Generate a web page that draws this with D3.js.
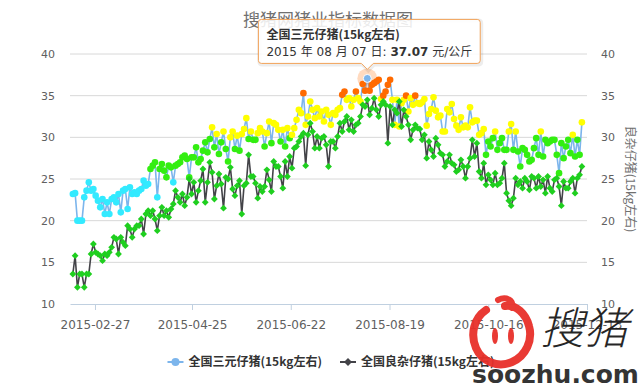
<!DOCTYPE html>
<html>
<head>
<meta charset="utf-8">
<script src="https://cdn.jsdelivr.net/npm/d3@7"></script>
<style>
  body { margin: 0; background: #fff; }
  svg { display: block; }
</style>
</head>
<body>
<div id="chart"></div>
<script>
// 搜猪网 - 仔猪价格走势 (recreated)

var width = 640
var height = 389

// ---- data ----
var titleText = "搜猪网猪业指标数据图"
var seriesNames = ["全国三元仔猪(15kg左右)", "全国良杂仔猪(15kg左右)"]
var rightAxisTitle = "良杂仔猪(15kg左右)"
var firstDay = "2015-02-14"   // first sample
var lastDay = "2015-12-10"    // last sample (samples evenly spaced)
var tickDates = ["2015-02-27", "2015-04-25", "2015-06-22", "2015-08-19", "2015-10-16", "2015-12-13"]
var yTicks = [10, 15, 20, 25, 30, 35, 40]

// 全国三元仔猪 (元/公斤)
var sanyuan = [
  23.2,23.3,20.0,20.0,20.0,22.8,23.6,24.6,23.6,23.8,
  23.0,22.4,21.6,22.6,20.8,22.2,20.8,22.6,22.8,22.2,
  23.2,21.0,23.6,23.8,21.4,24.0,23.2,23.4,23.2,23.6,
  23.8,24.8,24.2,24.4,26.2,26.6,27.0,22.8,26.2,26.8,
  26.0,25.2,26.6,26.4,24.6,26.6,26.8,27.0,27.6,27.8,
  27.4,25.2,27.6,27.6,28.8,27.0,27.4,28.4,29.4,28.2,
  29.8,31.2,28.8,30.4,28.0,29.4,30.7,28.6,27.1,30.0,
  30.7,28.6,30.2,28.4,30.4,31.0,
  32.3,29.8,30.7,29.7,29.7,30.5,31.1,30.7,28.9,30.5,
  31.9,29.3,31.7,31.5,30.9,29.5,30.9,28.9,31.1,29.9,
  30.3,31.1,32.1,33.3,32.9,35.3,31.5,32.5,34.3,33.3,
  32.3,33.5,32.5,33.1,31.9,33.3,32.7,31.5,32.9,32.7,
  33.3,33.5,35.1,35.5,34.5,34.7,33.7,34.5,35.5,34.7,
  34.3,36.4,35.6,37.07,35.6,36.3,36.5,36.7,36.9,34.6,
  35.0,35.5,36.3,36.9,34.5,31.5,34.5,31.3,34.1,34.5,
  35.0,33.1,34.7,33.9,35.0,34.1,
  34.0,34.2,34.6,31.4,32.8,33.4,34.8,33.2,32.4,32.6,
  30.7,30.7,33.4,33.0,34.0,32.2,31.4,30.9,32.4,31.2,
  31.4,31.2,33.6,31.8,32.0,32.0,30.3,30.5,31.0,27.9,
  29.5,28.9,29.9,30.7,28.5,29.3,29.9,28.5,28.5,30.7,
  31.6,28.5,30.7,28.3,26.5,28.7,28.5,27.9,27.1,27.3,
  28.7,29.9,27.9,30.7,27.7,29.7,29.3,29.5,29.7,29.7,
  27.9,25.7,29.3,27.5,28.9,29.7,28.1,30.3,27.7,29.7,
  27.9,31.8
]

// 全国良杂仔猪 (元/公斤)
var liangza = [
  13.6,15.8,12.0,13.6,13.6,12.0,13.6,13.6,16.0,17.2,
  16.2,16.0,15.8,15.2,16.0,15.8,16.2,16.8,18.0,17.8,
  16.0,18.0,17.4,17.0,19.4,19.0,18.0,19.0,19.4,19.4,
  20.2,18.4,20.8,21.2,20.6,21.2,20.2,18.8,20.6,21.6,
  20.6,21.2,20.4,21.4,22.0,23.6,22.8,22.2,23.2,21.8,
  22.8,25.0,23.2,24.6,22.2,23.6,24.8,26.2,22.2,24.6,
  27.0,25.8,22.6,24.2,25.6,24.4,21.5,25.2,25.0,26.4,
  23.8,23.0,24.2,24.8,20.8,24.2,
  24.5,27.9,25.3,25.3,24.5,22.7,24.1,23.5,24.1,26.1,
  24.9,23.5,27.1,26.5,26.5,25.3,23.9,27.1,25.3,27.7,
  26.3,28.7,28.9,29.5,30.1,30.5,26.6,30.3,31.7,30.7,
  28.7,30.1,28.7,29.9,30.1,29.1,26.5,29.5,29.5,28.7,
  30.1,31.7,30.7,31.9,32.5,30.9,32.1,30.7,31.5,31.7,
  32.5,33.9,33.7,34.5,32.7,33.5,34.7,33.3,32.5,33.9,
  34.3,33.9,29.3,33.7,31.5,33.3,32.9,34.3,31.3,33.3,
  32.5,31.5,29.7,30.9,31.5,31.1,
  31.0,29.7,30.3,27.5,29.5,28.5,27.7,29.9,29.1,28.1,
  27.9,26.5,27.1,27.9,26.9,26.7,25.9,26.1,27.3,26.5,
  25.1,26.5,27.5,29.7,27.7,29.3,25.9,25.1,26.9,24.3,
  25.5,24.9,24.3,25.7,24.3,24.5,25.1,26.9,23.3,22.4,
  21.8,22.7,25.1,24.3,24.7,23.9,25.1,24.7,23.7,25.3,
  25.1,23.9,25.3,24.1,24.9,23.3,25.3,23.9,23.5,24.9,
  25.1,24.1,21.8,24.7,23.9,23.9,24.7,25.1,23.3,25.1,
  25.5,26.5
]

// marker colour zones of the 三元 series
var zoneLimits = [25, 30, 35]
var zoneColors = ["#33eaff", "#33ee11", "#ffff00", "#ff6a00"]

// tooltip shown on the highest 三元 point
var tipDate = "2015 年 08 月 07 日"
var tipUnit = "元/公斤"

// ---- chart ----
var FONT = '"DejaVu Sans", "Noto Sans CJK SC", sans-serif'
var CJK = '"Noto Sans CJK SC", "DejaVu Sans", sans-serif'
var parse = d3.timeParse("%Y-%m-%d")

var svg = d3.select("#chart")
  .append("svg")
    .attr("width", width)
    .attr("height", height)

var plot = { left: 70, right: 587, top: 54, bottom: 304 }

var x = d3.scaleTime()
  .domain([new Date(2015, 1, 12, 8), new Date(2015, 11, 13)])
  .range([plot.left, plot.right])
var y = d3.scaleLinear()
  .domain([10, 40])
  .range([plot.bottom, plot.top])

var t0 = parse(firstDay), t1 = parse(lastDay)
function toPoints(arr) {
  return arr.map(function(v, i) {
    return { date: new Date(+t0 + i * (t1 - t0) / (arr.length - 1)), value: v }
  })
}
var blue = toPoints(sanyuan)
var dark = toPoints(liangza)

function zoneColor(v) { return zoneColors[d3.bisectRight(zoneLimits, v)] }

// title
svg.append("text")
  .attr("x", 328).attr("y", 26)
  .attr("text-anchor", "middle")
  .style("font-family", CJK).style("font-size", "17px")
  .style("fill", "#707070")
  .text(titleText)

// grid
svg.append("g").selectAll("line")
  .data(yTicks.slice(1))
  .enter().append("line")
    .attr("x1", plot.left).attr("x2", plot.right)
    .attr("y1", function(d) { return y(d) }).attr("y2", function(d) { return y(d) })
    .attr("stroke", "#d8d8d8").attr("stroke-width", 1)

// x axis
var xAxis = svg.append("g")
  .attr("transform", "translate(0," + plot.bottom + ")")
  .call(d3.axisBottom(x)
    .tickValues(tickDates.map(parse))
    .tickFormat(d3.timeFormat("%Y-%m-%d"))
    .tickSizeInner(6).tickSizeOuter(0).tickPadding(10))
xAxis.select(".domain").attr("stroke", "#c0d0e0")
xAxis.selectAll(".tick line").attr("stroke", "#c0d0e0")
xAxis.selectAll("text").style("font-family", FONT).style("font-size", "12px").attr("fill", "#606060")

// y axes
function styleY(g) {
  g.select(".domain").remove()
  g.selectAll("text").style("font-family", FONT).style("font-size", "11px").attr("fill", "#606060")
}
svg.append("g")
  .attr("transform", "translate(" + plot.left + ",0)")
  .call(d3.axisLeft(y).tickValues(yTicks).tickSize(0).tickPadding(15))
  .call(styleY)
svg.append("g")
  .attr("transform", "translate(" + plot.right + ",0)")
  .call(d3.axisRight(y).tickValues(yTicks).tickSize(0).tickPadding(14))
  .call(styleY)

svg.append("text")
  .attr("transform", "translate(626," + ((plot.top + plot.bottom) / 2) + ") rotate(90)")
  .attr("text-anchor", "middle")
  .style("font-family", CJK).style("font-size", "12px")
  .style("fill", "#707070")
  .text(rightAxisTitle)

// series
var line = d3.line()
  .x(function(d) { return x(d.date) })
  .y(function(d) { return y(d.value) })

function diamond(d) {
  var cx = x(d.date), cy = y(d.value), r = 3.4
  return "M" + cx + "," + (cy - r) + "L" + (cx + r) + "," + cy + "L" + cx + "," + (cy + r) + "L" + (cx - r) + "," + cy + "Z"
}

svg.append("path")
  .datum(blue)
  .attr("d", line)
  .attr("fill", "none").attr("stroke", "#7cb5ec").attr("stroke-width", 1.6)
svg.append("g").selectAll("circle")
  .data(blue)
  .enter().append("circle")
    .attr("cx", function(d) { return x(d.date) })
    .attr("cy", function(d) { return y(d.value) })
    .attr("r", 3.3)
    .attr("fill", function(d) { return zoneColor(d.value) })

svg.append("path")
  .datum(dark)
  .attr("d", line)
  .attr("fill", "none").attr("stroke", "#434348").attr("stroke-width", 1.6)
svg.append("g").selectAll("path")
  .data(dark)
  .enter().append("path")
    .attr("d", diamond)
    .attr("fill", "#1fcf1f")

// hovered point + tooltip
var hi = d3.maxIndex(sanyuan)
var hp = blue[hi]
var px = x(hp.date), py = y(hp.value)
svg.append("circle").attr("cx", px).attr("cy", py).attr("r", 10)
  .attr("fill", zoneColor(hp.value)).attr("fill-opacity", 0.25)
svg.append("circle").attr("cx", px).attr("cy", py).attr("r", 4)
  .attr("fill", "#7cb5ec").attr("stroke", "#fff").attr("stroke-width", 1)

var tip = svg.append("g")
var tipShadow = tip.append("path")
var tipBox = tip.append("path")
var l1 = tip.append("text")
  .style("font-family", CJK).style("font-size", "12px").style("font-weight", "bold")
  .attr("fill", "#333")
  .text(seriesNames[0])
var l2 = tip.append("text")
  .style("font-family", FONT).style("font-size", "12px")
  .attr("fill", "#333")
l2.append("tspan").text(tipDate + ": ")
l2.append("tspan").style("font-weight", "bold").text(hp.value.toFixed(2))
l2.append("tspan").text(" " + tipUnit)

var bw = Math.max(l1.node().getComputedTextLength(), l2.node().getComputedTextLength()) + 16
var bh = 44
var bl = px + 2 - bw / 2, br = bl + bw
var bb = py - 15, bt = bb - bh
var shape = "M" + (bl + 3) + "," + bt + "L" + (br - 3) + "," + bt +
  "Q" + br + "," + bt + " " + br + "," + (bt + 3) + "L" + br + "," + (bb - 3) +
  "Q" + br + "," + bb + " " + (br - 3) + "," + bb + "L" + (px + 6) + "," + bb +
  "L" + px + "," + (bb + 6) + "L" + (px - 6) + "," + bb + "L" + (bl + 3) + "," + bb +
  "Q" + bl + "," + bb + " " + bl + "," + (bb - 3) + "L" + bl + "," + (bt + 3) +
  "Q" + bl + "," + bt + " " + (bl + 3) + "," + bt + "Z"
tipShadow.attr("d", shape).attr("transform", "translate(1,1)")
  .attr("fill", "none").attr("stroke", "#000").attr("stroke-opacity", 0.07).attr("stroke-width", 4)
tipBox.attr("d", shape)
  .attr("fill", "#fff").attr("fill-opacity", 0.86)
  .attr("stroke", "#f2a35a").attr("stroke-width", 1)
l1.attr("x", bl + 8).attr("y", bt + 20)
l2.attr("x", bl + 8).attr("y", bt + 37)

// legend
var legY = 362
var leg = svg.append("g")
var t2 = leg.append("text").attr("x", 361).attr("y", legY + 4)
  .style("font-family", CJK).style("font-size", "12px").style("font-weight", "bold")
  .attr("fill", "#333").text(seriesNames[1])
var t1x = leg.append("text").attr("y", legY + 4)
  .style("font-family", CJK).style("font-size", "12px").style("font-weight", "bold")
  .attr("fill", "#333").text(seriesNames[0])
var w1 = t1x.node().getComputedTextLength()
var s1 = 322 - w1 - 21
t1x.attr("x", 322 - w1)
leg.append("line").attr("x1", s1).attr("x2", s1 + 16).attr("y1", legY).attr("y2", legY)
  .attr("stroke", "#7cb5ec").attr("stroke-width", 2)
leg.append("circle").attr("cx", s1 + 8).attr("cy", legY).attr("r", 4).attr("fill", "#7cb5ec")
leg.append("line").attr("x1", 340).attr("x2", 356).attr("y1", legY).attr("y2", legY)
  .attr("stroke", "#434348").attr("stroke-width", 2)
leg.append("path").attr("d", "M348," + (legY - 4) + "L352," + legY + "L348," + (legY + 4) + "L344," + legY + "Z")
  .attr("fill", "#434348")

// watermark (soozhu logo)
var wm = svg.append("g").attr("opacity", 0.95)
wm.append("path")
  .attr("d", "M486,310 C474,318 470,334 476,348 C482,362 498,368 512,362 C526,356 533,340 529,326 C526,314 516,304 505,306")
  .attr("fill", "none").attr("stroke", "#e8302a").attr("stroke-width", 8).attr("stroke-linecap", "round")
wm.append("path")
  .attr("d", "M498,300 C506,296 514,300 512,308")
  .attr("fill", "none").attr("stroke", "#e8302a").attr("stroke-width", 6).attr("stroke-linecap", "round")
wm.append("ellipse").attr("cx", 495).attr("cy", 336).attr("rx", 3).attr("ry", 8).attr("fill", "#e8302a")
wm.append("ellipse").attr("cx", 511).attr("cy", 336).attr("rx", 3).attr("ry", 8).attr("fill", "#e8302a")
wm.append("text").attr("x", 584).attr("y", 344).attr("text-anchor", "middle")
  .style("font-family", CJK).style("font-size", "44px").style("font-weight", "300")
  .style("font-style", "italic")
  .attr("fill", "#1a1a1a").text("搜猪")
wm.append("text").attr("x", 472).attr("y", 383)
  .style("font-family", FONT).style("font-size", "25px").style("font-weight", "bold")
  .attr("fill", "#2a2a2a").text("soozhu.com")
</script>
</body>
</html>
